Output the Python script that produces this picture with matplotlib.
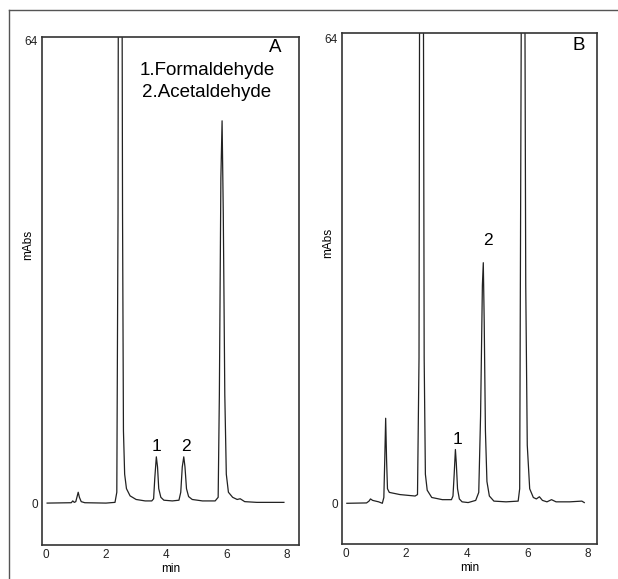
import matplotlib
matplotlib.use("Agg")
import matplotlib.pyplot as plt
from matplotlib.lines import Line2D

plt.rcParams['font.family'] = ['Liberation Sans', 'DejaVu Sans']

# ---- data ----
time_a = [0.05, 0.85, 0.90, 0.95, 1.00, 1.05, 1.08, 1.12, 1.18, 1.30, 2.00, 2.30,
          2.36, 2.40, 2.42, 2.52, 2.55, 2.58, 2.62, 2.68, 2.80, 3.00, 3.30, 3.52,
          3.58, 3.62, 3.67, 3.71, 3.75, 3.82, 3.92, 4.20, 4.42, 4.48, 4.53, 4.58,
          4.62, 4.67, 4.74, 4.86, 5.20, 5.62, 5.72, 5.76, 5.81, 5.85, 5.89, 5.94,
          5.99, 6.06, 6.20, 6.35, 6.45, 6.60, 7.00, 7.90]
signal_a = [0.0, 0.05, 0.3, 0.1, 0.2, 1.0, 1.5, 0.8, 0.2, 0.05, 0.0, 0.1,
            1.5, 40.0, 100.0, 100.0, 40.0, 10.0, 4.0, 2.0, 1.0, 0.5, 0.3, 0.3,
            0.6, 3.5, 6.4, 5.0, 2.0, 0.8, 0.4, 0.3, 0.4, 1.5, 5.0, 6.4,
            5.0, 2.0, 0.9, 0.5, 0.3, 0.3, 0.8, 15.0, 45.0, 52.9, 40.0, 15.0,
            4.0, 1.5, 0.8, 0.5, 0.6, 0.2, 0.1, 0.1]

time_b = [0.05, 0.70, 0.78, 0.83, 0.90, 1.10, 1.22, 1.27, 1.30, 1.33, 1.36, 1.39,
          1.45, 1.80, 2.30, 2.38, 2.43, 2.46, 2.56, 2.60, 2.64, 2.70, 2.85, 3.20,
          3.50, 3.55, 3.59, 3.63, 3.66, 3.70, 3.76, 3.85, 4.05, 4.30, 4.40, 4.46,
          4.52, 4.55, 4.58, 4.62, 4.67, 4.75, 4.90, 5.30, 5.70, 5.75, 5.80, 5.83,
          5.90, 5.95, 6.00, 6.08, 6.20, 6.30, 6.40, 6.50, 6.65, 6.80, 6.95, 7.40,
          7.80, 7.88]
signal_b = [0.0, 0.05, 0.3, 0.6, 0.4, 0.2, 0.0, 0.8, 6.0, 11.7, 6.0, 2.0,
            1.5, 1.2, 1.0, 1.2, 20.0, 100.0, 100.0, 20.0, 4.0, 1.8, 0.8, 0.5,
            0.5, 1.0, 4.0, 7.4, 5.5, 2.0, 0.6, 0.2, 0.1, 0.4, 1.5, 12.0,
            30.0, 33.1, 25.0, 10.0, 3.0, 1.0, 0.3, 0.2, 0.3, 2.0, 64.0, 100.0,
            100.0, 30.0, 8.0, 2.0, 0.8, 0.6, 0.9, 0.4, 0.2, 0.5, 0.2, 0.2,
            0.3, 0.1]

x_ticks = [0, 2, 4, 6, 8]
y_ticks = [0, 64]
legend_lines = ["1.Formaldehyde", "2.Acetaldehyde"]
peak_labels = ["1", "2"]
peak_label_pos_a = [(3.69, 7.8), (4.64, 7.8)]
peak_label_pos_b = [(3.70, 8.8), (4.69, 36.1)]

fig = plt.figure(figsize=(6.18, 5.79), dpi=100)

# outer frame (top and left edges)
fig.add_artist(Line2D([9 / 618, 1.0], [1 - 10 / 579, 1 - 10 / 579],
                      transform=fig.transFigure, color='#555555', lw=1.0))
fig.add_artist(Line2D([9 / 618, 9 / 618], [0.0, 1 - 10 / 579],
                      transform=fig.transFigure, color='#555555', lw=1.0))

tick_font = dict(family=['Liberation Sans Narrow', 'Liberation Sans', 'DejaVu Sans'], size=8.5)

def setup(ax, xlim, ylim):
    ax.set_xlim(*xlim)
    ax.set_ylim(*ylim)
    ax.set_xticks(x_ticks)
    ax.set_yticks(y_ticks)
    ax.set_xticklabels([str(t) for t in x_ticks], fontdict=tick_font)
    ax.set_yticklabels([str(t) for t in y_ticks], fontdict=tick_font)
    ax.tick_params(length=0, pad=3, colors='#222222')
    for s in ax.spines.values():
        s.set_color('#333333')
        s.set_linewidth(1.2)
    ax.set_xlabel('min', fontdict=tick_font, labelpad=1)
    ax.set_ylabel('mAbs', fontdict=tick_font)
    ax.yaxis.set_label_coords(-0.03, 0.59)

axA = fig.add_axes([42 / 618, 1 - 545 / 579, 257 / 618, 508 / 579])
axB = fig.add_axes([342 / 618, 1 - 544 / 579, 255 / 618, 511 / 579])

axA.plot(time_a, signal_a, color='#222222', lw=0.9)
axB.plot(time_b, signal_b, color='#222222', lw=0.9)

setup(axA, (-0.12, 8.40), (-5.8, 64.5))
setup(axB, (-0.11, 8.30), (-5.6, 64.7))

axA.text(7.6, 63.0, 'A', fontsize=13.5, ha='center', va='center')
axB.text(7.69, 63.0, 'B', fontsize=13.5, ha='center', va='center')
axA.text(3.10, 59.8, legend_lines[0], fontsize=13.5, ha='left', va='center')
axA.text(3.20, 56.8, legend_lines[1], fontsize=13.5, ha='left', va='center')

for lab, (px, py) in zip(peak_labels, peak_label_pos_a):
    axA.text(px, py, lab, fontsize=12.5, ha='center', va='center')
for lab, (px, py) in zip(peak_labels, peak_label_pos_b):
    axB.text(px, py, lab, fontsize=12.5, ha='center', va='center')

fig.savefig('out.png', dpi=100)
